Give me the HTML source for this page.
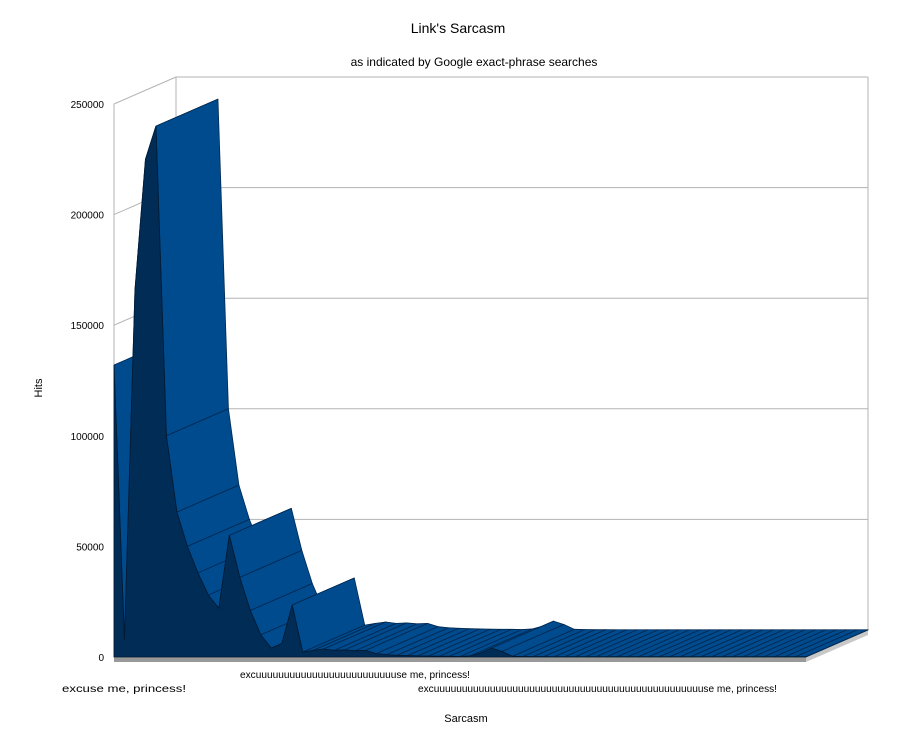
<!DOCTYPE html>
<html><head><meta charset="utf-8"><style>
html,body{margin:0;padding:0;background:#fff;}
svg{display:block;font-family:"Liberation Sans",sans-serif;}
</style></head><body>
<svg id="chart" width="916" height="737" viewBox="0 0 916 737">
  <text x="458" y="33" text-anchor="middle" font-size="14" fill="#000">Link's Sarcasm</text>
  <text x="474" y="66" text-anchor="middle" font-size="12" fill="#000">as indicated by Google exact-phrase searches</text>
  <text transform="translate(42,388) rotate(-90)" text-anchor="middle" font-size="11">Hits</text>
  <text x="466" y="722" text-anchor="middle" font-size="11">Sarcasm</text>
  <g id="walls"></g>
  <g id="yticks"></g>
  <g id="series"></g>
  <g id="xlabels"></g>
</svg>
<script>
const yTicks = [0, 50000, 100000, 150000, 200000, 250000];
const values = [132000, 7700, 166000, 225000, 240000, 100000, 65500, 50000, 38000, 28000,
  22000, 55000, 36000, 21000, 10000, 4000, 6000, 23500, 2200, 3000,
  3600, 3000, 3200, 2800, 3000, 1500, 1000, 800, 600, 500,
  400, 300, 300, 200, 500, 1800, 4000, 2500, 300, 200,
  150, 150, 100, 100, 100, 100, 100, 100, 100, 100,
  100, 100, 100, 100, 100, 100, 100, 100, 100, 100,
  100, 100, 100, 100, 100, 100, 100];
const catLabels = ["excuse me, princess!",
  "excu" + "u".repeat(24) + "se me, princess!",
  "excu" + "u".repeat(47) + "se me, princess!"];

const NS = "http://www.w3.org/2000/svg";
const X0 = 114, X1 = 806, Y0 = 657, YMAX = 250000, PX = 553;
const DX = 62, DY = -27;
function xs(i){ return X0 + i * (X1 - X0) / (values.length - 1); }
function ys(v){ return Y0 - v / YMAX * PX; }
function mk(tag, attrs, parent){
  const e = document.createElementNS(NS, tag);
  for (const k in attrs) e.setAttribute(k, attrs[k]);
  parent.appendChild(e); return e;
}
const walls = document.getElementById('walls');
const yt = document.getElementById('yticks');
yTicks.forEach(t => {
  const y = ys(t);
  const l1 = mk('line', {x1:X0, y1:y, x2:X0+DX, y2:y+DY, stroke:'#b3b3b3', 'stroke-width':1}, walls);
  
  
  if (t > 0) {
    const l2 = mk('line', {x1:X0+DX, y1:y+DY, x2:X1+DX, y2:y+DY, stroke:'#b3b3b3', 'stroke-width':1}, walls);
    
    
  }
  const tx = mk('text', {x:104, y:y+4, 'text-anchor':'end', 'font-size':10}, yt);
  tx.textContent = t;
  
  
});
const wl = mk('path', {d:`M${X0},${ys(0)} V${ys(YMAX)} M${X0+DX},${ys(0)+DY} V${ys(YMAX)+DY} M${X1+DX},${ys(0)+DY} V${ys(YMAX)+DY}`, stroke:'#b3b3b3', fill:'none'}, walls);



const g = document.getElementById('series');
// floor strip
const fl = mk('polygon', {points:`${X0},${Y0} ${X1},${Y0} ${X1},${Y0+5} ${X0},${Y0+5}`, fill:'#999'}, g);


const fr = mk('polygon', {points:`${X1},${Y0} ${X1+DX},${Y0+DY} ${X1+DX},${Y0+DY+5} ${X1},${Y0+5}`, fill:'#c8c8c8'}, g);


// top faces
for (let i = 0; i < values.length - 1; i++) {
  const xa = xs(i), xb = xs(i+1), ya = ys(values[i]), yb = ys(values[i+1]);
  const q = mk('polygon', {points:`${xa},${ya} ${xb},${yb} ${xb+DX},${yb+DY} ${xa+DX},${ya+DY}`, fill:'#004a8e', stroke:'#00284f', 'stroke-width':0.8, 'stroke-linejoin':'round'}, g);
  
  
}
// right end cap
const n = values.length - 1;
const cap = mk('polygon', {points:`${xs(n)},${Y0} ${xs(n)},${ys(values[n])} ${xs(n)+DX},${ys(values[n])+DY} ${xs(n)+DX},${Y0+DY}`, fill:'#003d75', stroke:'#00284f', 'stroke-width':0.8}, g);


// front face
let pts = `${X0},${Y0} `;
values.forEach((v, i) => { pts += `${xs(i)},${ys(v)} `; });
pts += `${X1},${Y0}`;
const front = mk('polygon', {points:pts, fill:'#002c56', stroke:'#001a33', 'stroke-width':0.8}, g);



const xl = document.getElementById('xlabels');
const labPos = [[62, 692, 124], [240, 678, 230], [418, 692, 359]];
catLabels.forEach((s, i) => {
  const t = mk('text', {x:labPos[i][0], y:labPos[i][1], 'font-size':10, textLength:labPos[i][2], lengthAdjust:'spacingAndGlyphs'}, xl);
  t.textContent = s;
  
  
});
</script>
</body></html>
